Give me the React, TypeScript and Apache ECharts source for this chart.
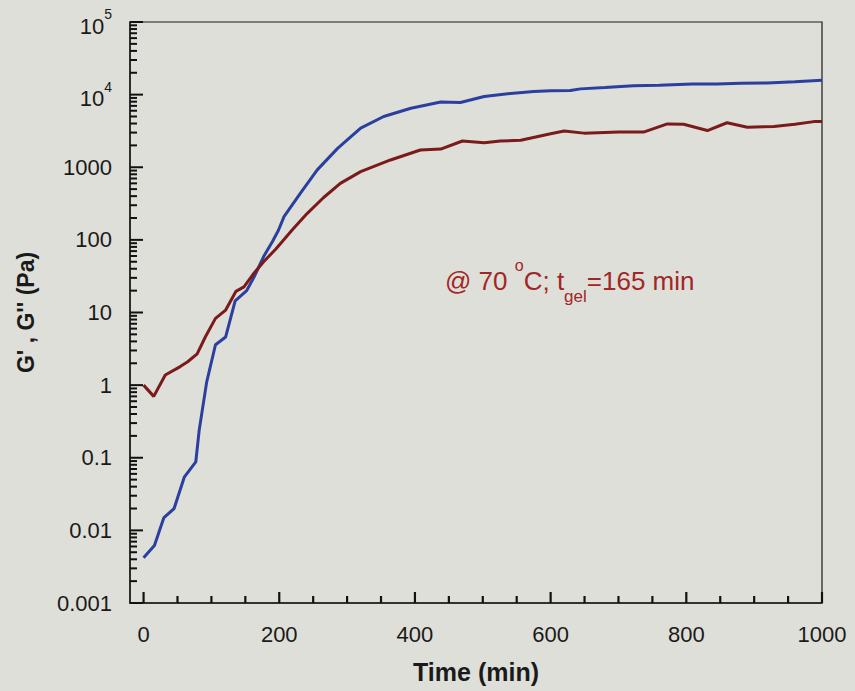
import React, { useEffect, useRef } from "react";
import * as echarts from "echarts";

// G' (storage modulus) — time (min) and value (Pa)
const timeStorage = [0, 16, 30, 45, 60, 77, 82, 93, 106, 121, 135, 152, 163, 177, 190, 199, 207, 231, 256, 286, 320, 354, 394, 438, 467, 502, 541, 575, 600, 629, 644, 680, 722, 760, 809, 845, 880, 919, 960, 1000];
const storageModulus = [0.0042, 0.0062, 0.015, 0.02, 0.054, 0.088, 0.24, 1.1, 3.6, 4.6, 14.5, 20, 31, 59, 95, 137, 209, 437, 920, 1820, 3450, 5000, 6500, 7900, 7800, 9400, 10400, 11000, 11300, 11400, 12000, 12500, 13200, 13500, 14000, 14000, 14300, 14500, 15000, 15800];

// G'' (loss modulus)
const timeLoss = [0, 15, 32, 54, 65, 79, 91, 106, 121, 136, 148, 163, 177, 195, 219, 241, 265, 290, 320, 364, 408, 438, 470, 502, 526, 556, 600, 620, 649, 700, 737, 772, 796, 831, 860, 890, 929, 960, 988, 1000];
const lossModulus = [1.0, 0.7, 1.38, 1.8, 2.1, 2.7, 4.6, 8.3, 10.8, 19.5, 22.5, 35, 50, 75, 137, 230, 380, 600, 870, 1260, 1730, 1780, 2300, 2180, 2300, 2350, 2900, 3150, 2950, 3050, 3050, 3950, 3900, 3200, 4100, 3550, 3650, 3900, 4250, 4250];

// Axis ticks and labels
const xMajorTicks = [0, 200, 400, 600, 800, 1000];
const xMinorTicks = [50, 100, 150, 250, 300, 350, 450, 500, 550, 650, 700, 750, 850, 900, 950];
const yDecadeExponents = [-3, -2, -1, 0, 1, 2, 3, 4, 5];
const yDecadeLabels = ["0.001", "0.01", "0.1", "1", "10", "100", "1000", "10^4", "10^5"];
const yMinorMultipliers = [2, 3, 4, 5, 6, 7, 8, 9];

const X_MIN = -20;
const X_MAX = 1000;
const Y_MIN = 0.001;
const Y_MAX = 100000;

const FONT = '"Liberation Sans", Arial, Helvetica, sans-serif';
const INK = "#1a1a1a";
const NOTE = "#a32626";

export default function App() {
  const ref = useRef<HTMLDivElement>(null);

  useEffect(() => {
    if (!ref.current) return;
    const chart = echarts.init(ref.current, undefined, { renderer: "svg" });

    const storageData = timeStorage.map((t, i) => [t, storageModulus[i]]);
    const lossData = timeLoss.map((t, i) => [t, lossModulus[i]]);

    // tick data: [value, tick length in px]
    const xTickData = [
      ...xMajorTicks.map((v) => [v, 11]),
      ...xMinorTicks.map((v) => [v, 7]),
    ];
    const yTickData: number[][] = [];
    yDecadeExponents.forEach((e, i) => {
      yTickData.push([Math.pow(10, e), 13]);
      if (i < yDecadeExponents.length - 1) {
        yMinorMultipliers.forEach((m) => yTickData.push([m * Math.pow(10, e), 7]));
      }
    });

    const option: any = {
      animation: false,
      backgroundColor: "#dedfd8",
      grid: {
        left: 130,
        right: 33,
        top: 22,
        bottom: 88,
        show: true,
        borderColor: INK,
        borderWidth: 1.2,
        backgroundColor: "transparent",
      },
      xAxis: [
        {
          type: "value",
          min: X_MIN,
          max: X_MAX,
          position: "bottom",
          axisLine: { show: true, onZero: false, lineStyle: { color: INK, width: 1.5 } },
          axisTick: { show: false },
          axisLabel: { customValues: xMajorTicks, fontSize: 22, color: INK, margin: 20, fontFamily: FONT, formatter: (v: number) => String(v) },
          splitLine: { show: false },
          name: "Time (min)",
          nameLocation: "middle",
          nameGap: 56,
          nameTextStyle: { fontSize: 25, fontWeight: "bold", color: INK, fontFamily: FONT },
        },
      ],
      yAxis: [
        {
          type: "log",
          logBase: 10,
          min: Y_MIN,
          max: Y_MAX,
          position: "left",
          axisLine: { show: true, onZero: false, lineStyle: { color: INK, width: 1.5 } },
          axisTick: { show: false },
          axisLabel: { show: false },
          splitLine: { show: false },
        },
        {
          type: "value",
          min: -3,
          max: 5,
          interval: 1,
          position: "left",
          axisLine: { show: false, onZero: false },
          axisTick: { show: false },
          axisLabel: {
            margin: 18,
            color: INK,
            fontFamily: FONT,
            fontSize: 22,
            formatter: (v: number) => {
              const idx = yDecadeExponents.indexOf(Math.round(v));
              const lab = idx >= 0 ? yDecadeLabels[idx] : "";
              if (lab.indexOf("^") >= 0) {
                const [b, s] = lab.split("^");
                return `{b|${b}}{s|${s}}`;
              }
              return lab;
            },
            rich: {
              b: { fontSize: 22, color: INK, fontFamily: FONT, padding: [8, 0, 0, 0] },
              s: { fontSize: 14, color: INK, fontFamily: FONT, verticalAlign: "top", lineHeight: 16 },
            },
          },
          splitLine: { show: false },
          name: "G' , G'' (Pa)",
          nameLocation: "middle",
          nameRotate: 90,
          nameGap: 93,
          nameTextStyle: { fontSize: 23, fontWeight: "bold", color: INK, fontFamily: FONT },
        },
      ],
      series: [
        {
          name: "x ticks",
          type: "custom",
          xAxisIndex: 0,
          yAxisIndex: 0,
          silent: true,
          clip: false,
          z: 5,
          data: xTickData,
          renderItem: (params: any, api: any) => {
            const p = api.coord([api.value(0), Y_MIN]);
            const len = api.value(1);
            return {
              type: "line",
              shape: { x1: p[0], y1: p[1], x2: p[0], y2: p[1] - len },
              style: { stroke: "#111111", lineWidth: 2.2 },
            };
          },
        },
        {
          name: "y ticks",
          type: "custom",
          xAxisIndex: 0,
          yAxisIndex: 0,
          silent: true,
          clip: false,
          z: 5,
          data: yTickData,
          renderItem: (params: any, api: any) => {
            const p = api.coord([X_MIN, api.value(0)]);
            const len = api.value(1);
            return {
              type: "line",
              shape: { x1: p[0], y1: p[1], x2: p[0] + len, y2: p[1] },
              style: { stroke: "#111111", lineWidth: 2 },
            };
          },
        },
        {
          name: "G'",
          type: "line",
          xAxisIndex: 0,
          yAxisIndex: 0,
          data: storageData,
          showSymbol: false,
          symbol: "none",
          lineStyle: { color: "#2b3f9f", width: 3 },
          z: 3,
        },
        {
          name: "G''",
          type: "line",
          xAxisIndex: 0,
          yAxisIndex: 0,
          data: lossData,
          showSymbol: false,
          symbol: "none",
          lineStyle: { color: "#7b1a1a", width: 3 },
          z: 4,
        },
      ],
      graphic: [
        {
          type: "text",
          left: 445,
          top: 257,
          style: {
            text: "@ 70 {sup|o}C; t{sub|gel}=165 min",
            fontSize: 26,
            fontFamily: FONT,
            fill: NOTE,
            lineHeight: 48,
            rich: {
              sup: { fontSize: 16, fontFamily: FONT, fill: NOTE, verticalAlign: "top", lineHeight: 24 },
              sub: { fontSize: 17, fontFamily: FONT, fill: NOTE, verticalAlign: "bottom", lineHeight: 10 },
            },
          },
        },
      ],
    };

    chart.setOption(option);
    return () => chart.dispose();
  }, []);

  return (
    <div
      ref={ref}
      style={{ position: "fixed", left: 0, top: 0, width: 855, height: 691 }}
    />
  );
}
